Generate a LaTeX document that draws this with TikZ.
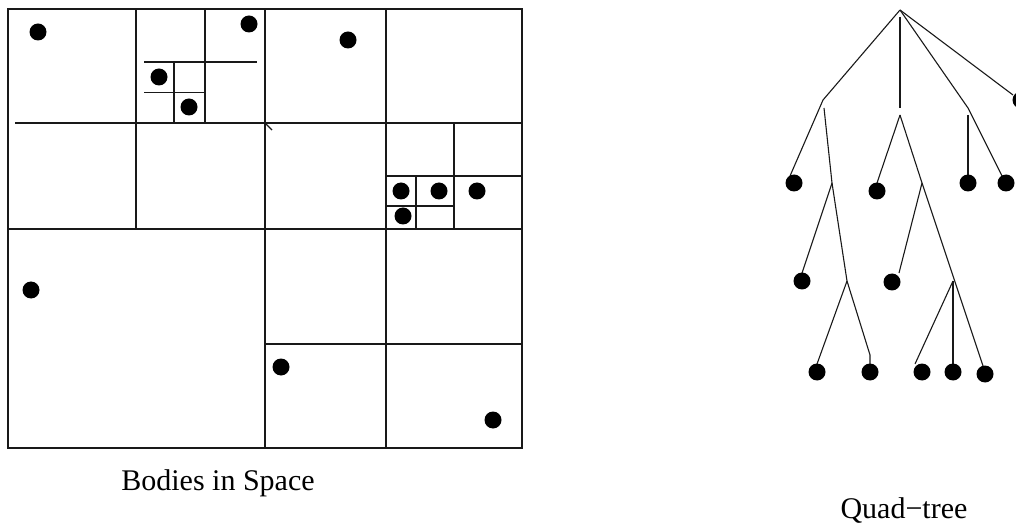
\documentclass[tikz,border=0pt]{standalone}
\usepackage{fontspec}
\setmainfont{Liberation Serif}
\begin{document}
\begin{tikzpicture}[x=1pt,y=-1pt,
  ln/.style={line width=1.1pt,black!90},
  frame/.style={line width=1.4pt,black!90},
  body/.style={circle,fill=black,inner sep=0pt,minimum size=17pt},
  lbl/.style={font=\fontsize{30}{34}\selectfont,inner sep=0pt}]
\useasboundingbox (0,0) rectangle (1016,526);
% ---------- Bodies in space ----------
\draw[frame] (8,9) rectangle (522,448);
\draw[frame] (265,9) -- (265,448);
\draw[frame] (8,229) -- (522,229);
% top-left quadrant
\draw[ln] (15,123) -- (265,123);
\draw[ln] (136,9) -- (136,229);
\draw[ln] (205,9) -- (205,123);
\draw[ln] (144,62) -- (257,62);
\draw[ln] (174,62) -- (174,123);
\draw[ln] (144,92.5) -- (205,92.5);
\draw[ln] (265,123) -- (272,130);
% top-right quadrant
\draw[ln] (386,9) -- (386,448);
\draw[ln] (265,123) -- (522,123);
\draw[ln] (454,123) -- (454,229);
\draw[ln] (386,176) -- (522,176);
\draw[ln] (416,176) -- (416,229);
\draw[ln] (386,206) -- (454,206);
% bottom-right quadrant
\draw[ln] (265,344) -- (522,344);
% bodies
\node[body] (b1) at (38,32) {};
\node[body] (b2) at (249,24) {};
\node[body] (b3) at (159,77) {};
\node[body] (b4) at (189,107) {};
\node[body] (b5) at (348,40) {};
\node[body] (b6) at (401,191) {};
\node[body] (b7) at (439,191) {};
\node[body] (b8) at (477,191) {};
\node[body] (b9) at (403,216) {};
\node[body] (b10) at (31,290) {};
\node[body] (b11) at (281,367) {};
\node[body] (b12) at (493,420) {};
\node[lbl] (t1) at (218,483) {Bodies in Space};
% ---------- Quad-tree ----------
\coordinate (R) at (900,10);
\coordinate (A) at (823,100);
\coordinate (A1) at (790,176);
\coordinate (Vt) at (900,17);
\coordinate (Vb) at (900,108);
\coordinate (C) at (968,108);
\coordinate (C1) at (1002,176);
\coordinate (Dd) at (1013,95);
\coordinate (Bs) at (824,108);
\coordinate (B) at (832,183);
\coordinate (B1) at (802,273);
\coordinate (Cn) at (847,281);
\coordinate (Cn1) at (817,364);
\coordinate (Cn2) at (870,355);
\coordinate (Cn3) at (870,364);
\coordinate (M) at (900,115);
\coordinate (M1) at (877,183);
\coordinate (D) at (922,183);
\coordinate (D1) at (899,273);
\coordinate (D2) at (983,366);
\coordinate (E) at (953,281);
\coordinate (E1) at (915,364);
\coordinate (E2) at (953,365);
\coordinate (Ct) at (968,115);
\coordinate (Cb) at (968,175);
\draw[ln] (R) -- (A) -- (A1);
\draw[ln] (Vt) -- (Vb);
\draw[ln] (R) -- (C) -- (C1);
\draw[ln] (R) -- (Dd);
\draw[ln] (Bs) -- (B) -- (Cn);
\draw[ln] (B) -- (B1);
\draw[ln] (Cn) -- (Cn1);
\draw[ln] (Cn) -- (Cn2) -- (Cn3);
\draw[ln] (M) -- (M1);
\draw[ln] (M) -- (D) -- (D2);
\draw[ln] (D) -- (D1);
\draw[ln] (E) -- (E1);
\draw[ln] (E) -- (E2);
\draw[ln] (Ct) -- (Cb);
\node[body] (l1) at (794,183) {};
\node[body] (l2) at (877,191) {};
\node[body] (l3) at (968,183) {};
\node[body] (l4) at (1006,183) {};
\node[body] (l5) at (1021,100) {};
\node[body] (l6) at (802,281) {};
\node[body] (l7) at (817,372) {};
\node[body] (l8) at (870,372) {};
\node[body] (l9) at (892,282) {};
\node[body] (l10) at (922,372) {};
\node[body] (l11) at (953,372) {};
\node[body] (l12) at (985,374) {};
\node[lbl] (t2) at (904,511) {Quad−tree};
\end{tikzpicture}
\end{document}
